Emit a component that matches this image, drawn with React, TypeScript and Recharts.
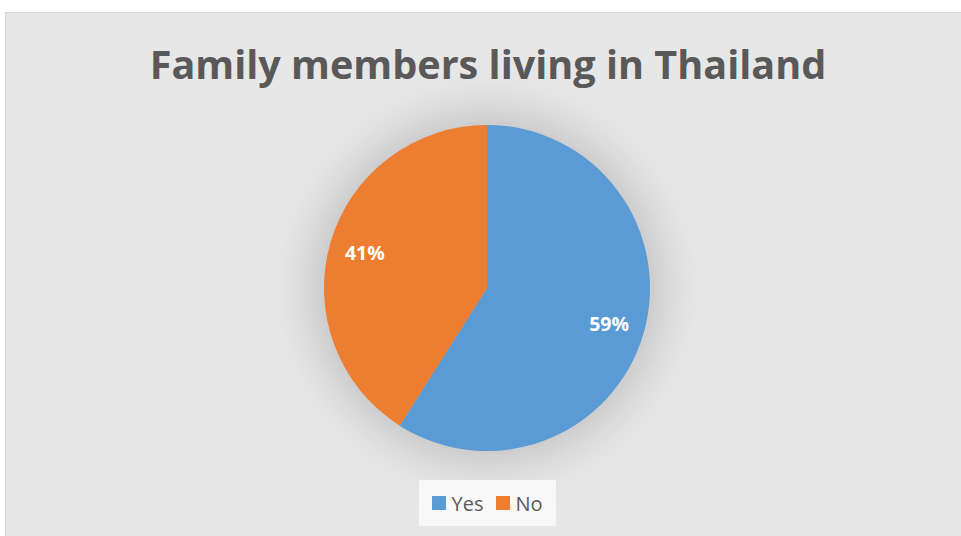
import { Cell, Pie, PieChart } from "recharts";

const answers = ["Yes", "No"];
const shares = [59, 41];
const sliceColors = ["#5b9bd5", "#ed7d31"];

const data = answers.map((name, i) => ({ name, value: shares[i] }));

const RADIAN = Math.PI / 180;

function renderLabel(props: any) {
	const { cx, cy, midAngle, outerRadius, value } = props;
	const r = outerRadius * 0.78;
	const x = cx + r * Math.cos(-midAngle * RADIAN);
	const y = cy + r * Math.sin(-midAngle * RADIAN);
	return (
		<text
			x={x}
			y={y}
			fill="#ffffff"
			fontSize={19.5}
			fontWeight={700}
			fontFamily="'Open Sans', sans-serif"
			textAnchor="middle"
			dominantBaseline="central"
		>
			{`${value}%`}
		</text>
	);
}

function LegendBox() {
	return (
		<div
			style={{
				position: "absolute",
				left: 419,
				top: 480,
				width: 137,
				height: 46,
				display: "flex",
				alignItems: "center",
				justifyContent: "center",
				gap: 13,
				background: "#f8f8f8",
				fontFamily: "'Open Sans', sans-serif",
				fontSize: 20,
				color: "#595959",
			}}
		>
			{data.map((d, i) => (
				<span key={d.name} style={{ display: "inline-flex", alignItems: "center", gap: 5 }}>
					<span style={{ width: 14, height: 14, background: sliceColors[i], display: "inline-block" }} />
					{d.name}
				</span>
			))}
		</div>
	);
}

export default function App() {
	return (
		<div
			style={{
				position: "fixed",
				left: 0,
				top: 0,
				width: 961,
				height: 536,
				background: "#ffffff",
				overflow: "hidden",
			}}
		>
			{/* soft glow around the pie */}
			<style>{`.recharts-pie { filter: drop-shadow(0 0 30px rgba(0,0,0,0.24)); }`}</style>
			<div
				style={{
					position: "absolute",
					left: 5,
					top: 12,
					width: 970,
					height: 540,
					background: "#e7e7e7",
					border: "1px solid #d4d4d4",
				}}
			/>
			<div
				style={{
					position: "absolute",
					left: 0,
					top: 37,
					width: 976,
					textAlign: "center",
					fontFamily: "'Open Sans', sans-serif",
					fontWeight: 700,
					fontSize: 39.6,
					color: "#595959",
				}}
			>
				Family members living in Thailand
			</div>
			<PieChart
				width={961}
				height={536}
				margin={{ top: 0, right: 0, bottom: 0, left: 0 }}
				style={{ position: "absolute", left: 0, top: 0 }}
			>
				<Pie
					data={data}
					dataKey="value"
					nameKey="name"
					cx={487}
					cy={288}
					outerRadius={163}
					startAngle={90}
					endAngle={-270}
					stroke="none"
					label={renderLabel}
					labelLine={false}
					isAnimationActive={false}
				>
					{data.map((d, i) => (
						<Cell key={d.name} fill={sliceColors[i]} />
					))}
				</Pie>
			</PieChart>
			<LegendBox />
		</div>
	);
}
